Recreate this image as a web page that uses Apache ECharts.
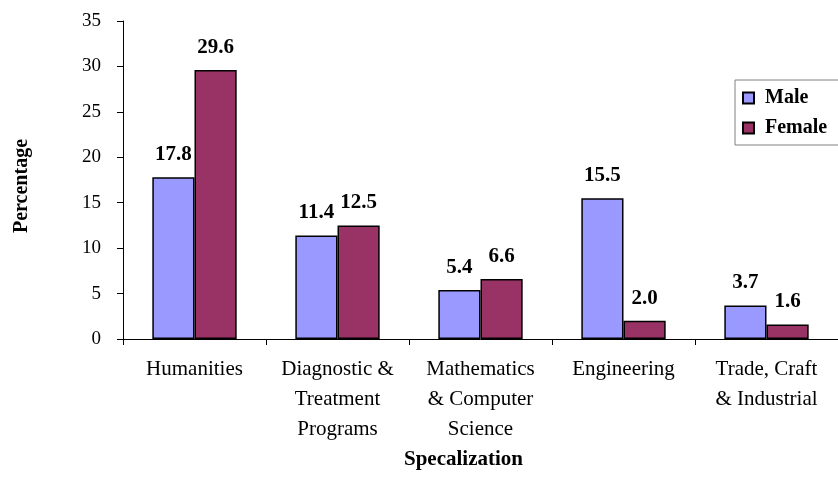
<!DOCTYPE html>
<html>
<head>
<meta charset="utf-8">
<script src="https://cdn.jsdelivr.net/npm/echarts@6/dist/echarts.min.js"></script>
<style>
  html, body { margin: 0; padding: 0; background: #fff; }
  #main { width: 838px; height: 486px; }
</style>
</head>
<body>
<div id="main"></div>
<script>
// data
var categories = ['Humanities', 'Diagnostic &\nTreatment\nPrograms', 'Mathematics\n& Computer\nScience', 'Engineering', 'Trade, Craft\n& Industrial'];
var maleValues = [17.8, 11.4, 5.4, 15.5, 3.7];
var femaleValues = [29.6, 12.5, 6.6, 2.0, 1.6];
var yTicks = [0, 5, 10, 15, 20, 25, 30, 35];

var serif = '"Liberation Serif", "DejaVu Serif", serif';

window.onload = function() {
	var myChart = echarts.init(document.getElementById('main'));

	var labelStyle = {
		show: true,
		position: 'top',
		distance: 12,
		fontFamily: serif,
		fontWeight: 'bold',
		fontSize: 21,
		color: '#000',
		formatter: function(p) { return p.value.toFixed(1); }
	};

	var option = {
		animation: false,
		backgroundColor: '#fff',
		grid: {
			left: 123,
			right: -5,
			top: 21,
			bottom: 147
		},
		legend: {
			orient: 'vertical',
			left: 735,
			top: 80,
			padding: [8, 30, 7, 7],
			itemGap: 10,
			itemWidth: 11,
			itemHeight: 11,
			icon: 'rect',
			borderColor: '#808080',
			borderWidth: 1,
			textStyle: {
				fontFamily: serif,
				fontWeight: 'bold',
				fontSize: 20,
				color: '#000',
				padding: [0, 0, 0, 6]
			},
			data: ['Male', 'Female']
		},
		xAxis: {
			type: 'category',
			data: categories,
			name: 'Specalization',
			nameLocation: 'middle',
			nameGap: 110,
			nameMoveOverlap: false,
			nameTextStyle: {
				fontFamily: serif,
				fontWeight: 'bold',
				fontSize: 21,
				color: '#000',
				padding: [0, 34, 0, 0]
			},
			axisLine: { lineStyle: { color: '#000', width: 1 } },
			axisTick: { show: true, length: 6, lineStyle: { color: '#000' } },
			axisLabel: {
				interval: 0,
				margin: 15,
				fontFamily: serif,
				fontSize: 21,
				lineHeight: 30,
				color: '#000'
			}
		},
		yAxis: {
			type: 'value',
			min: yTicks[0],
			max: yTicks[yTicks.length - 1],
			interval: 5,
			name: 'Percentage',
			nameLocation: 'middle',
			nameGap: 91,
			nameMoveOverlap: false,
			nameTextStyle: {
				fontFamily: serif,
				fontWeight: 'bold',
				fontSize: 20,
				color: '#000',
				padding: [0, 12, 0, 0]
			},
			splitLine: { show: false },
			axisLine: { show: true, lineStyle: { color: '#000', width: 1 } },
			axisTick: { show: true, length: 6, lineStyle: { color: '#000' } },
			axisLabel: {
				margin: 22,
				fontFamily: serif,
				fontSize: 19,
				color: '#000'
			}
		},
		series: [
			{
				name: 'Male',
				type: 'bar',
				data: maleValues,
				barGap: '0%',
				barCategoryGap: '41%',
				itemStyle: { color: '#9999FF', borderColor: '#000', borderWidth: 1.5 },
				label: labelStyle
			},
			{
				name: 'Female',
				type: 'bar',
				data: femaleValues,
				barGap: '0%',
				barCategoryGap: '41%',
				itemStyle: { color: '#993366', borderColor: '#000', borderWidth: 1.5 },
				label: labelStyle
			}
		]
	};

	myChart.setOption(option);
};
</script>
</body>
</html>
